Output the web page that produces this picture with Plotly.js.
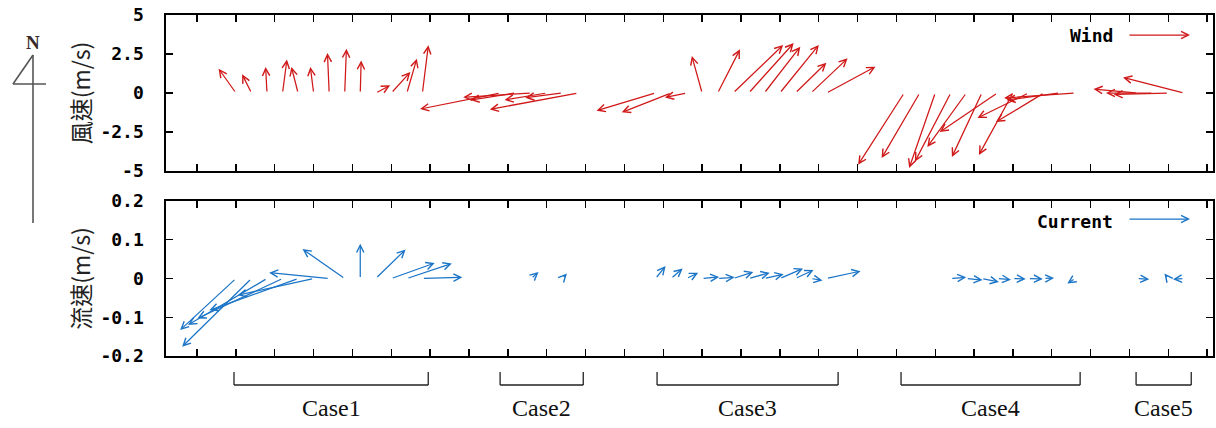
<!DOCTYPE html>
<html>
<head>
<meta charset="utf-8">
<script src="https://cdn.plot.ly/plotly-3.0.1.min.js"></script>
<style>html,body{margin:0;padding:0;background:#fff;}</style>
</head>
<body>
<div id="chart" style="width:1216px;height:428px;"></div>
<script>
// ---- data (time in axis units, u = east, v = north, m/s) ----
const caseNames = ['Case1', 'Case2', 'Case3', 'Case4', 'Case5'];
const caseStart = [1.95, 8.8, 12.84, 19.12, 25.17];
const caseEnd = [6.95, 10.94, 17.5, 23.73, 26.59];

const times = [
  2.0, 2.4, 2.8, 3.2, 3.6, 4.0, 4.4, 4.8, 5.2, 5.6, 6.0, 6.4, 6.8,
  8.8, 9.2, 9.6, 10.0, 10.4, 10.8,
  12.8, 13.2, 13.6, 14.0, 14.4, 14.8, 15.2, 15.6, 16.0, 16.4, 16.8, 17.2,
  19.2, 19.6, 20.0, 20.4, 20.8, 21.2, 21.6, 22.0, 22.4, 22.8, 23.2, 23.6,
  25.2, 25.6, 26.0, 26.4
];

const windU = [
  -1.11, -0.60, -0.09, 0.28, -0.43, -0.21, -0.11, 0.11, 0.06, 0.92, 1.22, 0.64, 0.38,
  -5.13, -2.90, -4.36, -2.70, -2.37, -5.64,
  -3.78, -3.16, -1.39, -0.66, 1.43, 3.20, 2.88, 2.31, 2.50, 1.99, 2.35, 3.14,
  -2.95, -2.44, -1.67, -2.30, -2.50, -1.92, -3.70, -2.18, -3.27, -3.08, -3.40, -4.55,
  -2.80, -3.00, -3.50, -3.90
];
const windV = [
  1.56, 1.20, 1.67, 2.14, 1.67, 1.67, 2.56, 2.84, 2.09, 0.49, 1.35, 2.20, 3.06,
  -1.03, -0.45, -0.28, -0.45, -0.30, -1.05,
  -1.13, -1.24, -0.29, 2.37, 2.80, 3.08, 3.20, 2.97, 3.08, 1.94, 2.22, 1.69,
  -4.60, -4.17, -4.80, -4.40, -3.46, -4.10, -2.50, -3.97, -1.60, -1.86, -0.45, -0.32,
  0.25, 0.00, -0.10, 1.00
];

const curU = [
  -0.144, -0.179, -0.204, -0.220, -0.229, -0.196, -0.155, -0.109, 0.000, 0.077, 0.112, 0.116, 0.103,
  0.000, 0.003, 0.019, 0.003, 0.012, -0.008,
  0.026, 0.030, 0.030, 0.044, 0.044, 0.052, 0.054, 0.050, 0.060, 0.047, 0.030, 0.088,
  0.002, 0.002, 0.002, 0.040, 0.042, 0.044, 0.035, 0.033, 0.037, 0.026, -0.008, -0.020,
  0.031, 0.002, -0.010, -0.028
];
const curV = [
  -0.133, -0.176, -0.120, -0.103, -0.082, -0.043, 0.015, 0.076, 0.090, 0.075, 0.040, 0.039, 0.003,
  0.002, 0.003, 0.017, 0.011, 0.013, 0.009,
  0.032, 0.026, 0.015, 0.004, 0.003, 0.017, 0.015, 0.011, 0.026, 0.022, -0.005, 0.019,
  0.000, 0.001, 0.001, 0.003, -0.004, -0.009, -0.003, -0.001, -0.001, 0.001, -0.003, -0.013,
  -0.002, 0.000, 0.013, -0.002
];

const windTicks = [-5, -2.5, 0, 2.5, 5];
const windTickText = ['-5', '-2.5', '0', '2.5', '5'];
const curTicks = [-0.2, -0.1, 0, 0.1, 0.2];
const curTickText = ['-0.2', '-0.1', '0', '0.1', '0.2'];
const xTicks = [1,2,3,4,5,6,7,8,9,10,11,12,13,14,15,16,17,18,19,20,21,22,23,24,25,26,27];

// ---- layout geometry ----
const W = 1216, H = 428;
const M = {l: 166, r: 3, t: 15, b: 72};
const xRange = [0.2, 27.15];
const windRange = [-5, 5];
const curRange = [-0.2, 0.2];
const topDom = [0.5425, 1];
const botDom = [0, 0.4545];
const plotW = W - M.l - M.r, plotH = H - M.t - M.b;
const pxPerX = plotW / (xRange[1] - xRange[0]);
const pxPerWind = plotH * (topDom[1] - topDom[0]) / (windRange[1] - windRange[0]);
const pxPerCur = plotH * (botDom[1] - botDom[0]) / (curRange[1] - curRange[0]);
const windK = pxPerWind / pxPerX;   // u (m/s) -> x units, equal aspect
const curK = pxPerCur / pxPerX;

const px2paperX = p => (p - M.l) / plotW;
const py2paperY = p => (H - M.b - p) / plotH;

const RED = '#d01818';
const BLUE = '#1b74c6';
const HEAD = 5, HSIZE = 1.15, HW = 1.25;

const annotations = [];
function addArrow(t, u, v, k, xr, yr, color) {
  annotations.push({
    x: t + u * k, y: v, ax: t, ay: 0,
    xref: xr, yref: yr, axref: xr, ayref: yr,
    showarrow: true, text: '', arrowhead: HEAD, arrowsize: HSIZE,
    arrowwidth: HW, arrowcolor: color, standoff: 0, startstandoff: 0
  });
}
times.forEach((t, i) => addArrow(t, windU[i], windV[i], windK, 'x', 'y', RED));
times.forEach((t, i) => addArrow(t, curU[i], curV[i], curK, 'x2', 'y2', BLUE));

const monoFont = {family: 'DejaVu Sans Mono, monospace', size: 18, color: '#000', weight: 'bold'};

// legend-like keys
annotations.push({xref: 'paper', yref: 'paper', x: px2paperX(1115), y: py2paperY(36),
  xanchor: 'right', yanchor: 'middle', text: 'Wind', showarrow: false, font: monoFont});
annotations.push({xref: 'paper', yref: 'paper', x: px2paperX(1190), y: py2paperY(35),
  ax: -62, ay: 0, text: '', showarrow: true, arrowhead: HEAD, arrowsize: HSIZE, arrowwidth: HW, arrowcolor: RED});
annotations.push({xref: 'paper', yref: 'paper', x: px2paperX(1115), y: py2paperY(221),
  xanchor: 'right', yanchor: 'middle', text: 'Current', showarrow: false, font: monoFont});
annotations.push({xref: 'paper', yref: 'paper', x: px2paperX(1190), y: py2paperY(219),
  ax: -62, ay: 0, text: '', showarrow: true, arrowhead: HEAD, arrowsize: HSIZE, arrowwidth: HW, arrowcolor: BLUE});

// case labels
const shapes = [];
caseNames.forEach((name, i) => {
  annotations.push({xref: 'x2', yref: 'paper', x: (caseStart[i] + caseEnd[i]) / 2, y: py2paperY(408),
    xanchor: 'center', yanchor: 'middle', text: name, showarrow: false,
    font: {family: 'Liberation Serif, serif', size: 24, color: '#111'}});
  const yTop = py2paperY(372), yBot = py2paperY(385);
  const ln = {color: '#222', width: 1.3};
  shapes.push({type: 'line', xref: 'x2', yref: 'paper', x0: caseStart[i], x1: caseStart[i], y0: yTop, y1: yBot, line: ln});
  shapes.push({type: 'line', xref: 'x2', yref: 'paper', x0: caseEnd[i], x1: caseEnd[i], y0: yTop, y1: yBot, line: ln});
  shapes.push({type: 'line', xref: 'x2', yref: 'paper', x0: caseStart[i], x1: caseEnd[i], y0: yBot, y1: yBot, line: ln});
});

// north arrow
const nl = {color: '#555', width: 1.6};
shapes.push({type: 'line', xref: 'paper', yref: 'paper', x0: px2paperX(33), x1: px2paperX(33), y0: py2paperY(55), y1: py2paperY(223), line: nl});
shapes.push({type: 'line', xref: 'paper', yref: 'paper', x0: px2paperX(33), x1: px2paperX(13), y0: py2paperY(55), y1: py2paperY(84), line: nl});
shapes.push({type: 'line', xref: 'paper', yref: 'paper', x0: px2paperX(13), x1: px2paperX(46), y0: py2paperY(84), y1: py2paperY(84), line: nl});
annotations.push({xref: 'paper', yref: 'paper', x: px2paperX(33), y: py2paperY(42),
  xanchor: 'center', yanchor: 'middle', text: 'N', showarrow: false,
  font: {family: 'Liberation Serif, serif', size: 19, color: '#3a2a2a', weight: 'bold'}});

const xAxisBase = {
  range: xRange, tickvals: xTicks, showticklabels: false, ticks: 'inside', ticklen: 7,
  tickwidth: 1.4, tickcolor: '#000', showline: true, linecolor: '#000', linewidth: 1.6,
  mirror: 'ticks', showgrid: false, zeroline: false, fixedrange: true
};
const yAxisBase = {
  ticks: 'inside', ticklen: 7, tickwidth: 1.4, tickcolor: '#000', showline: true,
  linecolor: '#000', linewidth: 1.6, mirror: 'ticks', showgrid: false, zeroline: false,
  tickfont: monoFont, ticklabelstandoff: 17, fixedrange: true
};
const titleFont = {family: 'Noto Sans CJK TC, Noto Sans CJK SC, sans-serif', size: 23, color: '#222'};

const layout = {
  width: W, height: H, margin: M, paper_bgcolor: '#fff', plot_bgcolor: '#fff',
  showlegend: false,
  xaxis: Object.assign({}, xAxisBase, {anchor: 'y', domain: [0, 1]}),
  xaxis2: Object.assign({}, xAxisBase, {anchor: 'y2', domain: [0, 1]}),
  yaxis: Object.assign({}, yAxisBase, {domain: topDom, range: windRange, tickvals: windTicks, ticktext: windTickText,
    title: {text: '風速(m/s)', font: titleFont, standoff: 3}}),
  yaxis2: Object.assign({}, yAxisBase, {domain: botDom, range: curRange, tickvals: curTicks, ticktext: curTickText,
    title: {text: '流速(m/s)', font: titleFont, standoff: 3}}),
  annotations: annotations,
  shapes: shapes
};

// invisible traces so both subplots exist
const traces = [
  {x: times, y: times.map(() => 0), xaxis: 'x', yaxis: 'y', mode: 'markers', marker: {opacity: 0}, hoverinfo: 'skip'},
  {x: times, y: times.map(() => 0), xaxis: 'x2', yaxis: 'y2', mode: 'markers', marker: {opacity: 0}, hoverinfo: 'skip'}
];

Plotly.newPlot('chart', traces, layout, {staticPlot: true, displayModeBar: false});
</script>
</body>
</html>
